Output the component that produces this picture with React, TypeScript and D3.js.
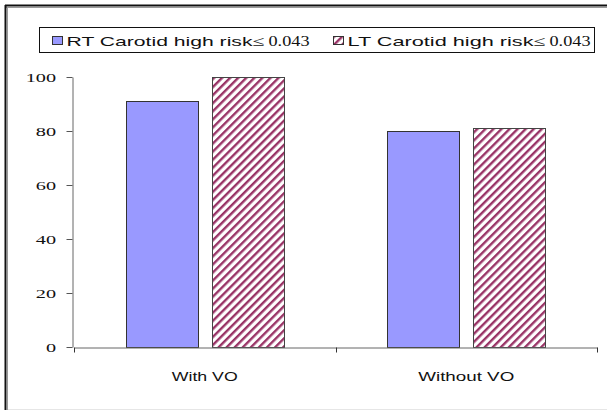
import * as d3 from "d3"
import { useEffect, useRef } from "react"

const categories = ["With VO", "Without VO"]
const seriesNames = ["RT Carotid high risk", "LT Carotid high risk"]
const rtValues = [91, 80]
const ltValues = [100, 81]
const yTicks = [0, 20, 40, 60, 80, 100]

export default function App() {
  const svgRef = useRef<SVGSVGElement>(null)

  useEffect(() => {
    if (!svgRef.current) return
    const svg = d3.select(svgRef.current)
    svg.selectAll("*").remove()

    const width = 607
    const height = 410
    const margin = { left: 74, right: 10, top: 77, bottom: 63 }
    const sans = "'Liberation Sans', Arial, sans-serif"
    const serif = "'Liberation Serif', 'Times New Roman', serif"

    // hatch pattern for LT series
    const defs = svg.append("defs")
    const pat = defs
      .append("pattern")
      .attr("id", "hatch")
      .attr("patternUnits", "userSpaceOnUse")
      .attr("width", 5.7)
      .attr("height", 5.7)
      .attr("patternTransform", "rotate(45)")
    pat.append("rect").attr("width", 5.7).attr("height", 5.7).attr("fill", "white")
    pat.append("rect").attr("width", 2.4).attr("height", 5.7).attr("fill", "#993366")

    // outer frame
    svg.append("rect").attr("width", width).attr("height", height).attr("fill", "white")
    svg.append("line").attr("x1", 5).attr("x2", width).attr("y1", 5.5).attr("y2", 5.5)
      .attr("stroke", "#111").attr("stroke-width", 2)
    svg.append("line").attr("x1", 5).attr("x2", width).attr("y1", 7.5).attr("y2", 7.5)
      .attr("stroke", "#999").attr("stroke-width", 1)
    svg.append("line").attr("x1", 5.5).attr("x2", 5.5).attr("y1", 5).attr("y2", height)
      .attr("stroke", "#111").attr("stroke-width", 2)
    svg.append("line").attr("x1", 7.5).attr("x2", 7.5).attr("y1", 7).attr("y2", height)
      .attr("stroke", "#999").attr("stroke-width", 1)
    svg.append("line").attr("x1", 8).attr("x2", width).attr("y1", 409.5).attr("y2", 409.5)
      .attr("stroke", "#e6e6e6").attr("stroke-width", 1)

    const x0 = d3.scaleBand<string>()
      .domain(categories)
      .range([margin.left, width - margin.right])
    const y = d3.scaleLinear().domain([0, 100]).range([height - margin.bottom, margin.top])
    const x1 = d3.scaleBand<number>()
      .domain([0, 1])
      .range([0, x0.bandwidth()])
      .paddingInner(0.16)
      .paddingOuter(0.6)

    const g = svg.append("g")

    // bars
    categories.forEach((c, i) => {
      const vals = [rtValues[i], ltValues[i]]
      vals.forEach((v, j) => {
        g.append("rect")
          .attr("x", Math.round(x0(c)! + x1(j)!) + 0.5)
          .attr("y", Math.round(y(v)) + 0.5)
          .attr("width", Math.round(x1.bandwidth()))
          .attr("height", Math.round(y(0) - y(v)))
          .attr("fill", j === 0 ? "#9999ff" : "url(#hatch)")
          .attr("stroke", j === 0 ? "#333" : "#444")
          .attr("stroke-width", 1)
      })
    })

    // y axis
    const yAxis = svg.append("g")
      .attr("transform", `translate(${margin.left - 1.5},0)`)
      .call(d3.axisLeft(y).tickValues(yTicks).tickSize(6).tickSizeOuter(0))
    yAxis.select(".domain").attr("stroke", "#666")
    yAxis.selectAll(".tick line").attr("stroke", "#555")
    yAxis.selectAll(".tick text")
      .attr("font-family", serif)
      .attr("font-size", 13.5)
      .attr("fill", "#111")
      .attr("x", -16.5 / 1.5)
      .attr("transform", "scale(1.5,1)")

    // x axis
    const xAxis = svg.append("g")
      .attr("transform", `translate(0,${y(0) + 0.5})`)
      .call(d3.axisBottom(x0).tickSize(0).tickSizeOuter(0))
    xAxis.select(".domain").attr("stroke", "#666")
    const labelWidths = [66, 96]
    xAxis.selectAll(".tick text")
      .attr("font-family", sans)
      .attr("font-size", 13)
      .attr("fill", "#111")
      .attr("dy", 0)
      .attr("y", 33)
      .attr("textLength", (_d, i) => labelWidths[i])
      .attr("lengthAdjust", "spacingAndGlyphs")
    // category separators
    x0.range().concat([x0(categories[1])!]).forEach((xv) => {
      xAxis.append("line")
        .attr("x1", Math.round(xv) + 0.5).attr("x2", Math.round(xv) + 0.5)
        .attr("y1", 0).attr("y2", 5)
        .attr("stroke", "#333")
    })

    // legend
    const legend = svg.append("g").attr("transform", "translate(39.5,27.5)")
    legend.append("rect").attr("width", 555).attr("height", 25)
      .attr("fill", "white").attr("stroke", "#111")
    const itemX = [13, 294]
    seriesNames.forEach((name, i) => {
      const item = legend.append("g").attr("transform", `translate(${itemX[i]},0)`)
      item.append("rect").attr("x", 0).attr("y", 9).attr("width", 10).attr("height", 8)
        .attr("fill", i === 0 ? "#9999ff" : "url(#hatch)").attr("stroke", "#333")
      item.append("text").attr("x", 14).attr("y", 18).attr("fill", "#111")
        .attr("font-family", sans)
        .attr("font-size", 13)
        .attr("textLength", 186)
        .attr("lengthAdjust", "spacingAndGlyphs")
        .text(name)
      item.append("text").attr("x", 200).attr("y", 18).attr("fill", "#111")
        .attr("font-family", serif)
        .attr("font-size", 14)
        .attr("textLength", 12)
        .attr("lengthAdjust", "spacingAndGlyphs")
        .text("≤")
      item.append("text").attr("x", 216).attr("y", 18).attr("fill", "#111")
        .attr("font-family", serif)
        .attr("font-size", 14)
        .attr("textLength", 41)
        .attr("lengthAdjust", "spacingAndGlyphs")
        .text("0.043")
    })
  }, [])

  return (
    <svg
      ref={svgRef}
      width={607}
      height={410}
      style={{ position: "absolute", left: 0, top: 0, display: "block" }}
    />
  )
}
